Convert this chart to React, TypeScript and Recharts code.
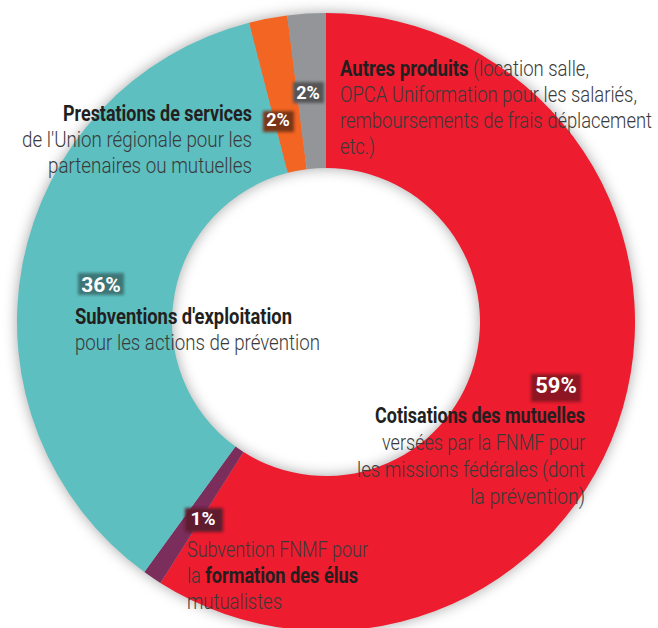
import React from 'react';
import { PieChart, Pie, Cell } from 'recharts';

const categories = [
  'Cotisations des mutuelles',
  'Subvention FNMF formation des élus',
  "Subventions d'exploitation",
  'Prestations de services',
  'Autres produits',
];
const values = [59, 1, 36, 2, 2];
const percentLabels = ['59%', '1%', '36%', '2%', '2%'];
const colors = ['#ED1C2E', '#7B2D5B', '#5DBFC0', '#F26522', '#939598'];

const data = categories.map((name, i) => ({ name, value: values[i] }));

const W = 658;
const H = 628;
const FONT = "Roboto, 'Open Sans', sans-serif";
const BOLD = '#231f20';
const REG = '#3a3a3a';

// badge layout per slice (same order as data)
const badges = [
  { cx: 556, base: 393, x: 531, y: 374, w: 50, h: 28, fill: '#8e1620', fs: 22 },
  { cx: 203, base: 525, x: 185, y: 508, w: 38, h: 24, fill: '#5e1a2e', fs: 19 },
  { cx: 101, base: 292, x: 78, y: 273, w: 46, h: 22, fill: '#3d7677', fs: 21 },
  { cx: 278, base: 126, x: 263, y: 111, w: 31, h: 21, fill: '#7a3413', fs: 18 },
  { cx: 308, base: 99, x: 293, y: 82, w: 31, h: 21, fill: '#555558', fs: 18 },
];

type Seg = { t: string; b?: boolean };
// each line: left x, baseline y, width, segments
const lines: { x: number; y: number; w: number; segs: Seg[] }[] = [
  { x: 375, y: 423, w: 210, segs: [{ t: 'Cotisations des mutuelles', b: true }] },
  { x: 382, y: 450, w: 203, segs: [{ t: 'versées par la FNMF pour' }] },
  { x: 357, y: 477, w: 228, segs: [{ t: 'les missions fédérales (dont' }] },
  { x: 470, y: 504, w: 115, segs: [{ t: 'la prévention)' }] },

  { x: 187, y: 557, w: 181, segs: [{ t: 'Subvention FNMF pour' }] },
  { x: 187, y: 583, w: 171, segs: [{ t: 'la ' }, { t: 'formation des élus', b: true }] },
  { x: 187, y: 609, w: 95, segs: [{ t: 'mutualistes' }] },

  { x: 75, y: 324, w: 217, segs: [{ t: "Subventions d'exploitation", b: true }] },
  { x: 75, y: 350, w: 245, segs: [{ t: 'pour les actions de prévention' }] },

  { x: 63, y: 121, w: 189, segs: [{ t: 'Prestations de services', b: true }] },
  { x: 22, y: 147, w: 230, segs: [{ t: "de l'Union régionale pour les" }] },
  { x: 48, y: 173, w: 204, segs: [{ t: 'partenaires ou mutuelles' }] },

  { x: 340, y: 76, w: 249, segs: [{ t: 'Autres produits', b: true }, { t: ' (location salle,' }] },
  { x: 340, y: 102, w: 297, segs: [{ t: 'OPCA Uniformation pour les salariés,' }] },
  { x: 340, y: 128, w: 312, segs: [{ t: 'remboursements de frais déplacement' }] },
  { x: 340, y: 154, w: 35, segs: [{ t: 'etc.)' }] },
];

export default function App() {
  return (
    <div style={{ position: 'absolute', left: 0, top: 0, width: W, height: H, background: '#fff', overflow: 'hidden' }}>
      <style>{`.recharts-pie { filter: drop-shadow(0px 0px 7px rgba(0,0,0,0.35)); }`}</style>
      <PieChart width={W} height={H} margin={{ top: 0, right: 0, bottom: 0, left: 0 }}>
        <Pie
          data={data}
          dataKey="value"
          nameKey="name"
          cx={326}
          cy={322}
          innerRadius={154}
          outerRadius={309}
          startAngle={90}
          endAngle={-270}
          stroke="none"
          isAnimationActive={false}
        >
          {data.map((d, i) => (
            <Cell key={d.name} fill={colors[i]} />
          ))}
        </Pie>
      </PieChart>
      <svg width={W} height={H} style={{ position: 'absolute', left: 0, top: 0, pointerEvents: 'none' }}>
        <defs>
          <filter id="blur" x="-30%" y="-30%" width="160%" height="160%">
            <feGaussianBlur stdDeviation="1.6" />
          </filter>
        </defs>
        {lines.map((ln, i) => (
          <text
            key={i}
            x={ln.x}
            y={ln.y}
            fontFamily={FONT}
            fontSize={22}
            textLength={ln.w}
            lengthAdjust="spacingAndGlyphs"
          >
            {ln.segs.map((s, si) => (
              <tspan key={si} fontWeight={s.b ? 700 : 300} fill={s.b ? BOLD : REG}>
                {s.t}
              </tspan>
            ))}
          </text>
        ))}
        {badges.map((b, i) => (
          <g key={i}>
            <rect x={b.x} y={b.y} width={b.w} height={b.h} fill={b.fill} filter="url(#blur)" />
            <text x={b.cx} y={b.base} textAnchor="middle" fontFamily={FONT} fontWeight={700} fontSize={b.fs} fill="#fff">
              {percentLabels[i]}
            </text>
          </g>
        ))}
      </svg>
    </div>
  );
}
